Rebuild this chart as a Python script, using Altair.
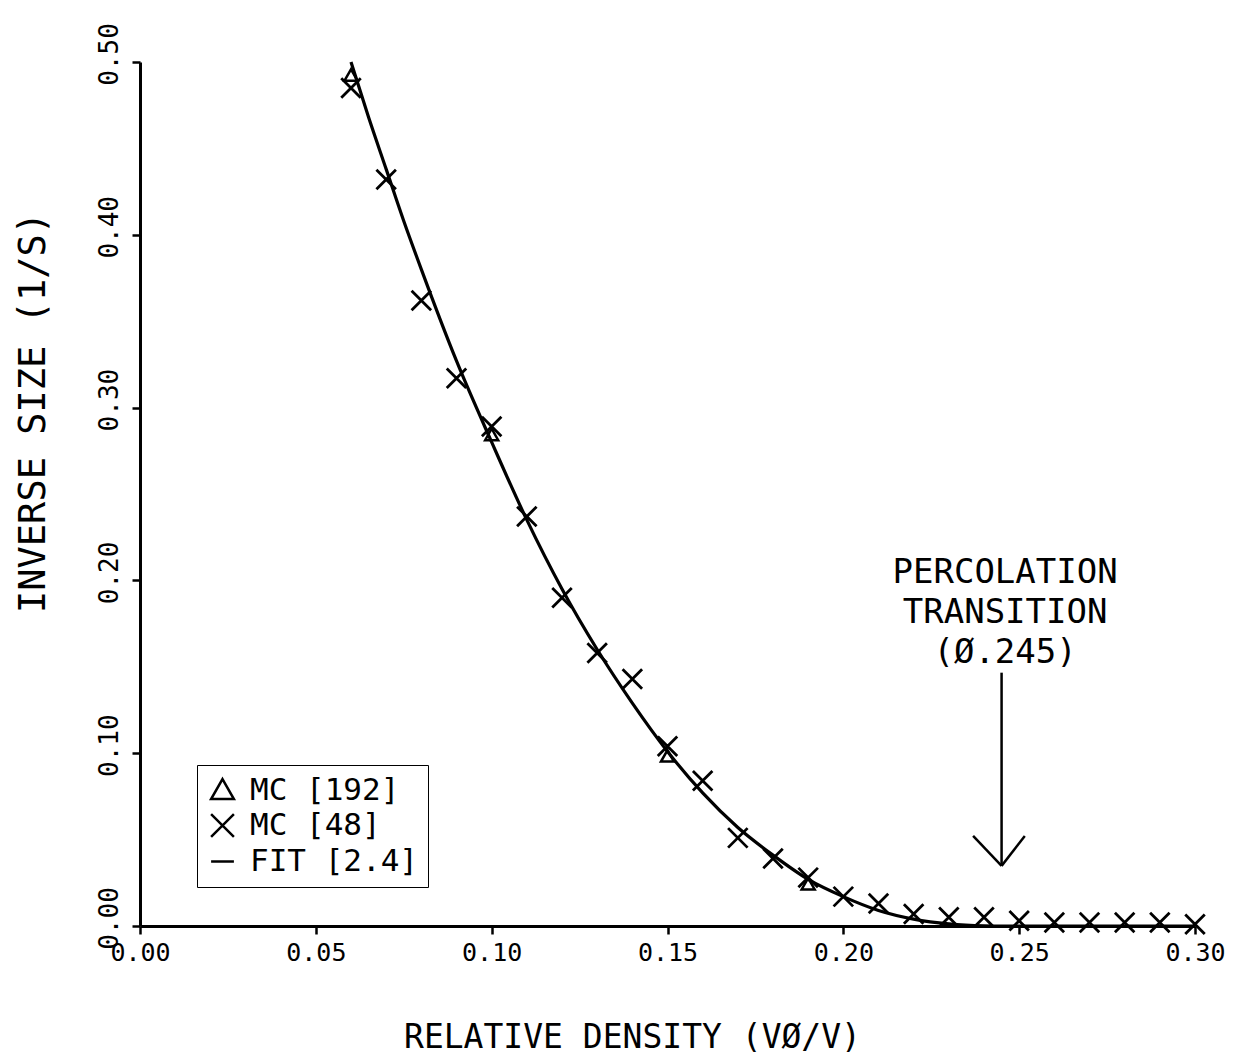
import altair as alt
import pandas as pd

# ---- data ----
# MC [48] (crosses)
mc48_x = [0.06, 0.07, 0.08, 0.09, 0.10, 0.11, 0.12, 0.13, 0.14, 0.15, 0.16, 0.17, 0.18,
          0.19, 0.20, 0.21, 0.22, 0.23, 0.24, 0.25, 0.26, 0.27, 0.28, 0.29, 0.30]
mc48_y = [0.485, 0.432, 0.362, 0.317, 0.289, 0.237, 0.190, 0.158, 0.143, 0.104, 0.084, 0.051, 0.039,
          0.028, 0.017, 0.013, 0.007, 0.005, 0.005, 0.003, 0.002, 0.002, 0.002, 0.002, 0.001]
# MC [192] (triangles)
mc192_x = [0.06, 0.10, 0.15, 0.19]
mc192_y = [0.492, 0.284, 0.098, 0.024]
# FIT [2.4] curve
fit_x = [0.060, 0.065, 0.070, 0.075, 0.080, 0.090, 0.100, 0.110, 0.120, 0.130, 0.140, 0.150,
         0.160, 0.170, 0.180, 0.190, 0.200, 0.210, 0.220, 0.230, 0.240, 0.245, 0.300]
fit_y = [0.500, 0.468, 0.438, 0.408, 0.380, 0.327, 0.280, 0.235, 0.195, 0.160, 0.129, 0.101,
         0.077, 0.057, 0.041, 0.027, 0.017, 0.009, 0.004, 0.0012, 0.0001, 0.0, 0.0]

series_names = ["MC [192]", "MC [48]", "FIT [2.4]"]
x_ticks = [0.00, 0.05, 0.10, 0.15, 0.20, 0.25, 0.30]
y_ticks = [0.00, 0.10, 0.20, 0.30, 0.40, 0.50]

annot_text = "PERCOLATION\nTRANSITION\n(Ø.245)"
annot_x = [0.246]
annot_y = [0.2045]
# arrow segments (shaft, left arm, right arm)
arrow_x1 = [0.245, 0.2369, 0.2516]
arrow_y1 = [0.1466, 0.0521, 0.0521]
arrow_x2 = [0.245, 0.245, 0.245]
arrow_y2 = [0.0348, 0.0348, 0.0348]

FONT = "DejaVu Sans Mono"

tri = pd.DataFrame({"x": mc192_x, "y": mc192_y, "series": ["MC [192]"] * len(mc192_x)})
crs = pd.DataFrame({"x": mc48_x, "y": mc48_y, "series": ["MC [48]"] * len(mc48_x)})
fit = pd.DataFrame({"x": fit_x, "y": fit_y})
arrow = pd.DataFrame({"x": arrow_x1, "y": arrow_y1, "x2": arrow_x2, "y2": arrow_y2})
annot = pd.DataFrame({"x": annot_x, "y": annot_y, "t": [annot_text]})

xscale = alt.Scale(domain=[0, 0.30], nice=False, zero=False)
yscale = alt.Scale(domain=[0, 0.50], nice=False, zero=False)

xaxis = alt.Axis(
    title="RELATIVE DENSITY (VØ/V)", values=x_ticks, format=".2f", grid=False,
    labelFont=FONT, labelFontSize=25, labelColor="black", labelPadding=6,
    labelFlush=False, labelOverlap=False,
    tickSize=8, tickWidth=2.5, tickColor="black", domainWidth=3, domainColor="black",
    titleFont=FONT, titleFontSize=33, titleFontWeight="normal", titleColor="black",
    titlePadding=56, titleX=492,
)
yaxis = alt.Axis(
    title="INVERSE SIZE (1/S)", values=y_ticks, format=".2f", grid=False,
    labelFont=FONT, labelFontSize=26, labelColor="black", labelPadding=10,
    labelAngle=270, labelAlign="center", labelBaseline="bottom",
    labelFlush=False, labelOverlap=False, labelOffset=-8,
    tickSize=8, tickWidth=2.5, tickColor="black", domainWidth=3, domainColor="black",
    titleFont=FONT, titleFontSize=37, titleFontWeight="normal", titleColor="black",
    titlePadding=44, titleY=350,
)

shape_scale = alt.Scale(
    domain=series_names,
    range=["M0,-1L1,0.75L-1,0.75Z", "M-1,-1L1,1M-1,1L1,-1", "M-1,0L1,0"],
)
legend = alt.Legend(
    title=None, orient="none", legendX=57, legendY=703,
    strokeColor="black", fillColor="white", padding=10, cornerRadius=0,
    labelFont=FONT, labelFontSize=31, labelColor="black", labelOffset=12,
    labelLimit=500,
    symbolSize=520, symbolStrokeWidth=2.5, symbolStrokeColor="black",
    symbolFillColor="white", rowPadding=3,
)

tri_layer = alt.Chart(tri).mark_point(filled=False, color="black", strokeWidth=2.5,
                                      size=170, opacity=1).encode(
    x=alt.X("x:Q", scale=xscale, axis=xaxis),
    y=alt.Y("y:Q", scale=yscale, axis=yaxis),
    shape=alt.Shape("series:N", scale=shape_scale, legend=legend),
)
crs_layer = alt.Chart(crs).mark_point(filled=False, color="black", strokeWidth=2.8,
                                      size=380, opacity=1).encode(
    x=alt.X("x:Q", scale=xscale),
    y=alt.Y("y:Q", scale=yscale),
    shape=alt.Shape("series:N", scale=shape_scale, legend=legend),
)

line = alt.Chart(fit).mark_line(color="black", strokeWidth=3.2, interpolate="monotone").encode(
    x=alt.X("x:Q", scale=xscale),
    y=alt.Y("y:Q", scale=yscale),
)

arrows = alt.Chart(arrow).mark_rule(color="black", strokeWidth=2.5).encode(
    x="x:Q", y="y:Q", x2="x2:Q", y2="y2:Q",
)

label = alt.Chart(annot).mark_text(
    font=FONT, fontSize=34, lineBreak="\n", lineHeight=40, align="center",
    baseline="middle", color="black",
).encode(x="x:Q", y="y:Q", text="t:N")

chart = alt.layer(line, tri_layer, crs_layer, arrows, label).properties(
    width=1055, height=864,
    background="white",
    autosize=alt.AutoSizeParams(type="none"),
    padding={"left": 132, "top": 54, "right": 45, "bottom": 136},
).configure_view(stroke=None)

chart.save("out.html", embed_options={"renderer": "svg", "actions": False})
